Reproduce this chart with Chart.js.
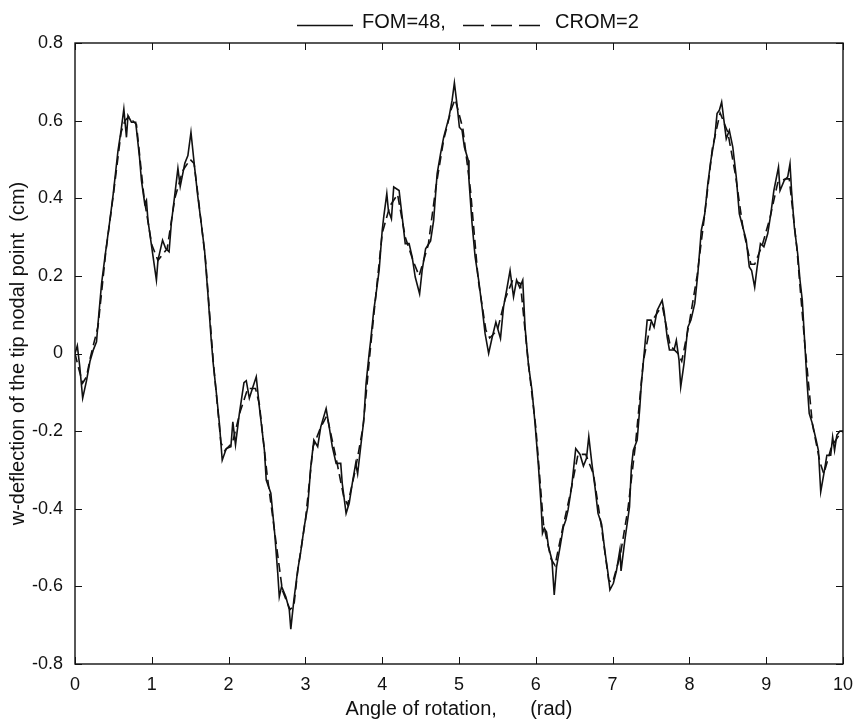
<!DOCTYPE html>
<html>
<head>
<meta charset="utf-8">
<title>Tip deflection</title>
<script src="https://cdn.jsdelivr.net/npm/chart.js@4.4.1/dist/chart.umd.min.js"></script>
<style>
  html, body { margin: 0; padding: 0; background: #fff; }
  canvas { display: block; }
</style>
</head>
<body>
<canvas id="chart" width="857" height="726"></canvas>
<script>
// FOM=48 (full order model), solid line
const fomAngle = [
  0.00, 0.03, 0.06, 0.10, 0.15, 0.195, 0.24, 0.28, 0.30, 0.346, 0.39, 0.454, 0.497, 0.56, 0.60, 0.636,
  0.67, 0.69, 0.735, 0.79, 0.84, 0.865, 0.908, 0.93, 0.95, 1.017, 1.06, 1.08, 1.14, 1.18, 1.225, 1.254,
  1.30, 1.34, 1.37, 1.43, 1.47, 1.51, 1.557, 1.60, 1.644, 1.687, 1.73, 1.774, 1.80, 1.84, 1.88, 1.917,
  1.97, 2.03, 2.055, 2.09, 2.14, 2.20, 2.23, 2.27, 2.31, 2.36, 2.40, 2.466, 2.49, 2.55, 2.60, 2.64,
  2.66, 2.69, 2.745, 2.79, 2.81, 2.85, 2.90, 2.94, 2.985, 3.03, 3.07, 3.11, 3.16, 3.20, 3.27, 3.31,
  3.35, 3.40, 3.46, 3.48, 3.53, 3.57, 3.61, 3.655, 3.68, 3.72, 3.76, 3.79, 3.83, 3.85, 3.89, 3.915,
  3.96, 4.00, 4.02, 4.06, 4.08, 4.12, 4.15, 4.22, 4.26, 4.30, 4.35, 4.39, 4.43, 4.487, 4.52, 4.565,
  4.63, 4.67, 4.715, 4.76, 4.80, 4.87, 4.91, 4.94, 4.975, 5.005, 5.04, 5.07, 5.12, 5.13, 5.17, 5.21,
  5.256, 5.30, 5.34, 5.386, 5.43, 5.48, 5.54, 5.58, 5.62, 5.665, 5.71, 5.75, 5.79, 5.83, 5.86, 5.905,
  5.95, 5.99, 6.035, 6.07, 6.087, 6.11, 6.14, 6.165, 6.21, 6.24, 6.27, 6.316, 6.36, 6.39, 6.42, 6.467,
  6.52, 6.576, 6.62, 6.66, 6.69, 6.73, 6.77, 6.81, 6.857, 6.90, 6.94, 6.965, 7.01, 7.05, 7.095, 7.11,
  7.16, 7.22, 7.245, 7.27, 7.32, 7.355, 7.375, 7.42, 7.45, 7.50, 7.54, 7.58, 7.645, 7.67, 7.71, 7.74,
  7.80, 7.83, 7.865, 7.887, 7.93, 7.98, 8.02, 8.07, 8.11, 8.155, 8.20, 8.24, 8.28, 8.33, 8.36, 8.39,
  8.42, 8.45, 8.48, 8.52, 8.565, 8.61, 8.65, 8.695, 8.74, 8.78, 8.81, 8.85, 8.88, 8.925, 8.97, 9.02,
  9.06, 9.10, 9.16, 9.18, 9.235, 9.28, 9.31, 9.33, 9.366, 9.41, 9.44, 9.47, 9.50, 9.53, 9.56, 9.60,
  9.65, 9.68, 9.71, 9.755, 9.79, 9.84, 9.865, 9.89, 9.92, 9.96, 10.00
];
const fomDeflection = [
  0.000, 0.020, -0.030, -0.115, -0.070, -0.020, 0.010, 0.030, 0.078, 0.180, 0.249, 0.343, 0.410, 0.523, 0.575, 0.630,
  0.557, 0.613, 0.596, 0.596, 0.506, 0.446, 0.386, 0.395, 0.343, 0.249, 0.189, 0.240, 0.292, 0.271, 0.262, 0.335,
  0.410, 0.477, 0.430, 0.490, 0.510, 0.570, 0.480, 0.403, 0.335, 0.266, 0.155, 0.034, -0.026, -0.100, -0.180, -0.275,
  -0.245, -0.240, -0.176, -0.235, -0.155, -0.075, -0.070, -0.115, -0.090, -0.060, -0.137, -0.249, -0.326, -0.360, -0.463, -0.566,
  -0.627, -0.600, -0.627, -0.660, -0.710, -0.635, -0.558, -0.510, -0.446, -0.395, -0.292, -0.223, -0.240, -0.189, -0.142, -0.189,
  -0.240, -0.283, -0.283, -0.335, -0.412, -0.386, -0.335, -0.283, -0.310, -0.240, -0.172, -0.077, 0.000, 0.034, 0.111, 0.146,
  0.214, 0.317, 0.352, 0.412, 0.370, 0.347, 0.429, 0.420, 0.352, 0.283, 0.283, 0.249, 0.197, 0.154, 0.214, 0.270,
  0.290, 0.343, 0.463, 0.515, 0.557, 0.609, 0.652, 0.697, 0.640, 0.583, 0.575, 0.532, 0.498, 0.446, 0.335, 0.249,
  0.189, 0.120, 0.051, 0.000, 0.040, 0.081, 0.039, 0.120, 0.163, 0.214, 0.146, 0.189, 0.170, 0.189, 0.068, -0.030,
  -0.094, -0.180, -0.292, -0.395, -0.463, -0.450, -0.460, -0.498, -0.532, -0.622, -0.550, -0.498, -0.446, -0.430, -0.403, -0.343,
  -0.245, -0.260, -0.290, -0.270, -0.214, -0.283, -0.343, -0.412, -0.440, -0.510, -0.566, -0.609, -0.592, -0.560, -0.506, -0.560,
  -0.480, -0.395, -0.292, -0.249, -0.223, -0.137, -0.077, 0.020, 0.086, 0.086, 0.068, 0.111, 0.137, 0.110, 0.043, 0.009,
  0.009, 0.034, -0.017, -0.086, -0.026, 0.068, 0.086, 0.129, 0.206, 0.317, 0.360, 0.438, 0.498, 0.557, 0.618, 0.627,
  0.648, 0.600, 0.553, 0.575, 0.532, 0.455, 0.360, 0.326, 0.292, 0.223, 0.214, 0.171, 0.220, 0.283, 0.275, 0.309,
  0.360, 0.420, 0.480, 0.420, 0.446, 0.455, 0.489, 0.420, 0.326, 0.257, 0.189, 0.137, 0.034, -0.069, -0.154, -0.180,
  -0.223, -0.250, -0.356, -0.305, -0.262, -0.262, -0.215, -0.250, -0.210, -0.200, -0.200
];

// CROM=2 (reduced model), dashed line
const cromAngle = [
  0.00, 0.05, 0.10, 0.15, 0.20, 0.30, 0.40, 0.50, 0.60, 0.65, 0.70, 0.80, 0.90, 1.00, 1.08, 1.20,
  1.30, 1.40, 1.50, 1.55, 1.60, 1.70, 1.80, 1.90, 1.95, 2.05, 2.15, 2.25, 2.35, 2.40, 2.50, 2.60,
  2.70, 2.80, 2.85, 2.90, 3.00, 3.10, 3.20, 3.28, 3.40, 3.50, 3.55, 3.65, 3.75, 3.85, 4.00, 4.10,
  4.20, 4.30, 4.40, 4.48, 4.60, 4.70, 4.80, 4.90, 4.95, 5.05, 5.15, 5.25, 5.35, 5.40, 5.50, 5.60,
  5.70, 5.80, 5.90, 6.00, 6.10, 6.20, 6.25, 6.35, 6.45, 6.55, 6.65, 6.75, 6.85, 6.95, 7.00, 7.10,
  7.20, 7.30, 7.40, 7.50, 7.60, 7.65, 7.75, 7.85, 7.90, 8.00, 8.10, 8.20, 8.30, 8.40, 8.50, 8.60,
  8.70, 8.80, 8.85, 8.95, 9.05, 9.15, 9.25, 9.30, 9.40, 9.50, 9.60, 9.70, 9.75, 9.85, 9.95, 10.00
];
const cromDeflection = [
  0.00, -0.04, -0.076, -0.06, -0.01, 0.07, 0.26, 0.41, 0.57, 0.60, 0.61, 0.59, 0.40, 0.28, 0.24, 0.27,
  0.40, 0.47, 0.50, 0.49, 0.41, 0.24, -0.02, -0.23, -0.25, -0.23, -0.15, -0.09, -0.09, -0.13, -0.31, -0.46,
  -0.61, -0.66, -0.65, -0.56, -0.43, -0.24, -0.19, -0.16, -0.27, -0.37, -0.39, -0.30, -0.19, 0.02, 0.31, 0.38,
  0.41, 0.30, 0.24, 0.20, 0.28, 0.43, 0.55, 0.63, 0.655, 0.58, 0.42, 0.19, 0.06, 0.04, 0.06, 0.14,
  0.19, 0.18, -0.02, -0.19, -0.44, -0.53, -0.546, -0.45, -0.36, -0.26, -0.26, -0.31, -0.44, -0.585, -0.59, -0.52,
  -0.40, -0.23, -0.02, 0.08, 0.11, 0.12, 0.02, 0.00, -0.02, 0.08, 0.20, 0.36, 0.53, 0.62, 0.57, 0.46,
  0.32, 0.23, 0.23, 0.28, 0.35, 0.44, 0.45, 0.45, 0.27, 0.03, -0.18, -0.28, -0.31, -0.24, -0.21, -0.20
];

const xTickValues = [0, 1, 2, 3, 4, 5, 6, 7, 8, 9, 10];
const yTickValues = [-0.8, -0.6, -0.4, -0.2, 0, 0.2, 0.4, 0.6, 0.8];

const FONT = "'Liberation Sans', Arial, Helvetica, sans-serif";
const INK = '#111';

function toPoints(xs, ys) {
  return xs.map((x, i) => ({ x: x, y: ys[i] }));
}

// box around the plot with inward ticks on all four sides, plus the key line on top
const frameAndKey = {
  id: 'frameAndKey',
  afterDraw(chart) {
    const { ctx, chartArea: a, scales } = chart;
    const xs = scales.x, ys = scales.y;
    ctx.save();
    ctx.strokeStyle = INK;
    ctx.lineWidth = 1.4;
    ctx.strokeRect(a.left, a.top, a.right - a.left, a.bottom - a.top);

    ctx.beginPath();
    xTickValues.forEach(v => {
      const px = Math.round(xs.getPixelForValue(v)) + 0.5;
      ctx.moveTo(px, a.bottom); ctx.lineTo(px, a.bottom - 7);
      ctx.moveTo(px, a.top); ctx.lineTo(px, a.top + 7);
    });
    yTickValues.forEach(v => {
      const py = Math.round(ys.getPixelForValue(v)) + 0.5;
      ctx.moveTo(a.left, py); ctx.lineTo(a.left + 7, py);
      ctx.moveTo(a.right, py); ctx.lineTo(a.right - 7, py);
    });
    ctx.lineWidth = 1;
    ctx.stroke();

    // key: solid sample, label, dashed sample, label
    ctx.lineWidth = 1.4;
    ctx.beginPath();
    ctx.moveTo(297, 25.5); ctx.lineTo(353, 25.5);
    ctx.stroke();
    ctx.setLineDash([21, 7]);
    ctx.beginPath();
    ctx.moveTo(463, 25.5); ctx.lineTo(542, 25.5);
    ctx.stroke();
    ctx.setLineDash([]);

    ctx.fillStyle = INK;
    ctx.font = '20px ' + FONT;
    ctx.textBaseline = 'alphabetic';
    ctx.textAlign = 'left';
    ctx.fillText('FOM=48,', 362, 28);
    ctx.fillText('CROM=2', 555, 28);
    ctx.restore();
  }
};

const ctx = document.getElementById('chart').getContext('2d');
new Chart(ctx, {
  type: 'line',
  data: {
    datasets: [
      {
        label: 'FOM=48',
        data: toPoints(fomAngle, fomDeflection),
        borderColor: INK,
        borderWidth: 1.6,
        pointRadius: 0,
        tension: 0,
        fill: false
      },
      {
        label: 'CROM=2',
        data: toPoints(cromAngle, cromDeflection),
        borderColor: INK,
        borderWidth: 1.6,
        borderDash: [9, 5],
        pointRadius: 0,
        tension: 0,
        fill: false
      }
    ]
  },
  options: {
    responsive: false,
    animation: false,
    layout: { padding: { top: 43, right: 14, left: 0, bottom: 0 } },
    plugins: {
      legend: { display: false },
      tooltip: { enabled: false }
    },
    scales: {
      x: {
        type: 'linear',
        min: 0,
        max: 10,
        afterBuildTicks: s => { s.ticks = xTickValues.map(v => ({ value: v })); },
        afterFit: s => {
          s.height = 62;
          // the "10" label may hang past the plot edge; keep the frame where it is
          s.paddingLeft = 0;
          s.paddingRight = 0;
        },
        grid: { display: false, drawTicks: false },
        border: { display: false },
        ticks: {
          color: INK,
          padding: 10,
          maxRotation: 0,
          font: { family: FONT, size: 18 },
          callback: v => String(v)
        },
        title: {
          display: true,
          text: 'Angle of rotation,      (rad)',
          color: INK,
          font: { family: FONT, size: 20 },
          padding: { top: 0, bottom: 5 }
        }
      },
      y: {
        type: 'linear',
        min: -0.8,
        max: 0.8,
        afterBuildTicks: s => { s.ticks = yTickValues.map(v => ({ value: v })); },
        afterFit: s => { s.width = 75; },
        grid: { display: false, drawTicks: false },
        border: { display: false },
        ticks: {
          color: INK,
          padding: 12,
          font: { family: FONT, size: 18 },
          callback: v => (Math.abs(v) < 1e-9 ? '0' : (+v.toFixed(1)).toString())
        },
        title: {
          display: true,
          text: 'w-deflection of the tip nodal point  (cm)',
          color: INK,
          font: { family: FONT, size: 20 },
          padding: { top: 6, bottom: 0 }
        }
      }
    }
  },
  plugins: [frameAndKey]
});
</script>
</body>
</html>
